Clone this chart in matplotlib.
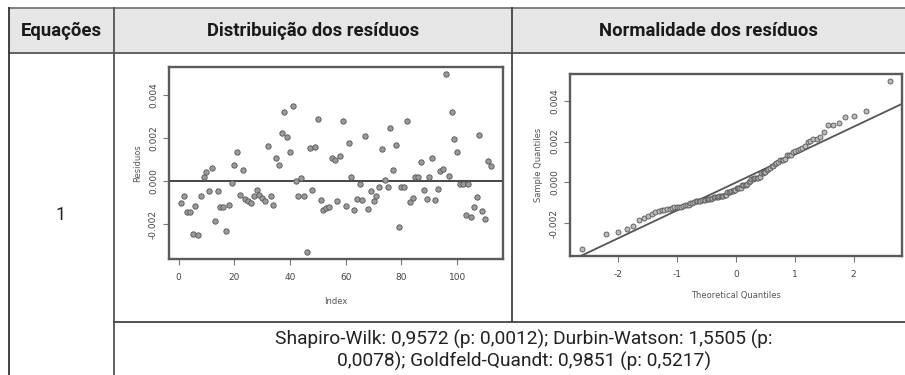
import numpy as np
import matplotlib
matplotlib.use("Agg")
import matplotlib.pyplot as plt
from matplotlib.patches import Rectangle
from statistics import NormalDist

plt.rcParams["axes.unicode_minus"] = False

# Residuals of equation 1 (units of 1e-3)
residuos = np.array([
    -1.00, -0.68, -1.44, -1.43, -2.45, -1.13, -2.52, -0.70, 0.22, 0.45,
    -0.47, 0.63, -1.86, -0.47, -1.21, -1.19, -2.30, -1.12, -0.10, 0.78,
    1.36, -0.62, 0.52, -0.83, -0.93, -1.02, -0.70, -0.42, -0.62, -0.78,
    -0.90, 1.62, -0.70, -1.12, 1.08, 0.78, 2.25, 3.22, 2.05, 1.34,
    3.52, 0.02, -0.68, 0.15, -0.68, -3.29, 1.55, -0.43, 1.58, 2.90,
    -0.85, -1.36, -1.25, -1.22, 1.08, 1.00, -0.90, 1.16, 2.82, -1.16,
    1.77, 0.18, -1.33, -0.82, -0.15, -0.88, 2.13, -1.30, -0.47, -0.93,
    -0.67, -0.28, 1.51, 0.05, -0.28, 2.47, 0.52, 1.68, -2.15, -0.28,
    -0.26, 2.82, -0.98, -0.80, 0.20, 0.21, 0.91, -0.39, -0.82, 0.19,
    1.08, -0.86, -0.36, 0.48, 0.58, 4.99, 0.24, 3.24, 1.99, 1.34,
    -0.12, -0.12, -1.55, -0.12, -1.65, -1.22, -0.72, 2.15, -1.38, -1.75,
    0.93, 0.70,
]) * 1e-3
index = np.arange(1, len(residuos) + 1)

y_ticks = [-0.002, 0.000, 0.002, 0.004]
y_ticklabels = ["-0.002", "0.000", "0.002", "0.004"]
x_ticks_res = [0, 20, 40, 60, 80, 100]
x_ticks_qq = [-2, -1, 0, 1, 2]

headers = ["Equações", "Distribuição dos resíduos", "Normalidade dos resíduos"]
equacao = "1"
testes = ("Shapiro-Wilk: 0,9572 (p: 0,0012); Durbin-Watson: 1,5505 (p:\n"
          "0,0078); Goldfeld-Quandt: 0,9851 (p: 0,5217)")

# QQ plot from the residuals (R: qqnorm / qqline)
n = len(residuos)
sample_q = np.sort(residuos)
theor_q = np.array([NormalDist().inv_cdf((i - 0.5) / n) for i in range(1, n + 1)])
q1, q3 = np.percentile(residuos, [25, 75])
z1, z3 = NormalDist().inv_cdf(0.25), NormalDist().inv_cdf(0.75)
slope = (q3 - q1) / (z3 - z1)
intercept = q1 - slope * z1

W, H = 905, 375
fig = plt.figure(figsize=(W / 100, H / 100), dpi=100)

# table drawn in pixel coordinates
bg = fig.add_axes([0, 0, 1, 1])
bg.set_xlim(0, W)
bg.set_ylim(H, 0)
bg.axis("off")

bg.add_patch(Rectangle((9, 8), W - 9, 45, facecolor="#e6e6e6", edgecolor="none"))
bg.plot([9, W], [8, 8], color="#777777", lw=1.3)
bg.plot([9, W], [53, 53], color="#555555", lw=1.3)
bg.plot([9, 9], [8, H], color="#333333", lw=1.3)
bg.plot([114, 114], [8, H], color="#555555", lw=1.3)
bg.plot([512, 512], [8, 322], color="#444444", lw=1.3)
bg.plot([114, W], [322, 322], color="#444444", lw=1.3)

hfont = dict(family="Roboto", fontsize=13.3, fontweight="bold", color="#1a1a1a",
             ha="center", va="center")
bg.text(61, 31, headers[0], **hfont)
bg.text(313, 31, headers[1], **hfont)
bg.text(708, 31, headers[2], **hfont)
bg.text(61, 215, equacao, family="Roboto", fontsize=13, color="#222222",
        ha="center", va="center")
bg.text(524, 350, testes, family="Roboto", fontsize=13.8, color="#222222",
        ha="center", va="center", linespacing=1.2)


def r_style(ax):
    for s in ax.spines.values():
        s.set_color("#5a5a5a")
        s.set_linewidth(1.7)
    ax.tick_params(direction="out", length=4, width=0.8, color="#777777",
                   labelsize=6.5, labelcolor="#444444", pad=6)


def r_lim(v):
    lo, hi = v.min(), v.max()
    e = (hi - lo) * 0.04
    return lo - e, hi + e


# residuals vs index
ax1 = fig.add_axes([169 / W, 1 - 259 / H, 334 / W, 192 / H])
ax1.scatter(index, residuos, s=15, facecolor="#9a9a9a", edgecolor="#555555",
            linewidths=0.6, zorder=3)
ax1.axhline(0, color="#444444", lw=1.4)
ax1.set_xlim(*r_lim(index))
ax1.set_ylim(*r_lim(residuos))
ax1.set_xticks(x_ticks_res)
ax1.set_yticks(y_ticks)
ax1.set_yticklabels(y_ticklabels, rotation=90, va="center")
ax1.set_xlabel("Index", fontsize=6, color="#555555", labelpad=11)
ax1.set_ylabel("Residuos", fontsize=6, color="#555555", labelpad=5)
r_style(ax1)
ax1.tick_params(axis="y", pad=4)

# normal QQ plot
ax2 = fig.add_axes([570 / W, 1 - 256 / H, 332 / W, 182 / H])
ax2.scatter(theor_q, sample_q, s=13, facecolor="#bbbbbb", edgecolor="#555555",
            linewidths=0.6, zorder=3)
xl = r_lim(theor_q)
ax2.set_xlim(*xl)
ax2.set_ylim(*r_lim(sample_q))
xs = np.array(xl)
ax2.plot(xs, intercept + slope * xs, color="#555555", lw=1.3)
ax2.set_xticks(x_ticks_qq)
ax2.set_yticks(y_ticks)
ax2.set_yticklabels(y_ticklabels, rotation=90, va="center")
ax2.set_xlabel("Theoretical Quantiles", fontsize=6, color="#555555", labelpad=9)
ax2.set_ylabel("Sample Quantiles", fontsize=6, color="#555555", labelpad=5)
r_style(ax2)
ax2.tick_params(axis="y", pad=4)

fig.savefig("out.png", dpi=100)
